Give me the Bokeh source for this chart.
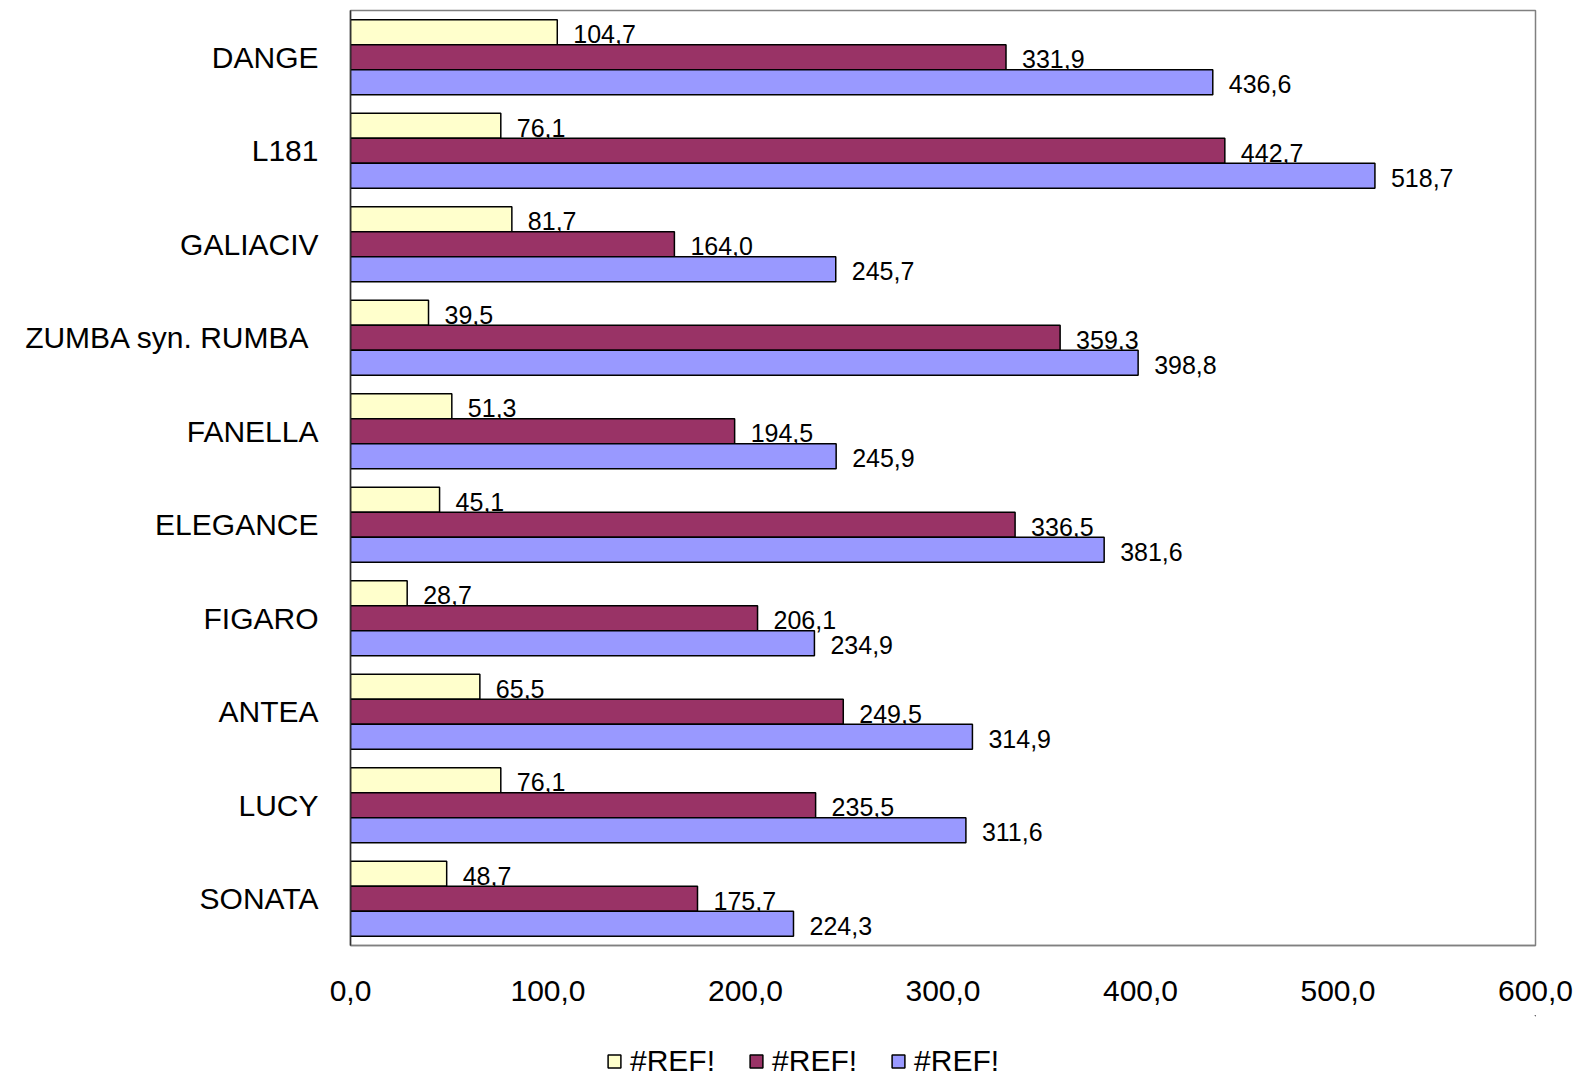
from bokeh.plotting import figure
from bokeh.models import FactorRange, Range1d, FixedTicker, Legend, LegendItem, ColumnDataSource
from bokeh.layouts import column
from bokeh.transform import dodge
from bokeh.core.properties import value
from bokeh.embed import file_html
from bokeh.resources import INLINE

categories = ["DANGE", "L181", "GALIACIV", "ZUMBA syn. RUMBA ", "FANELLA",
              "ELEGANCE", "FIGARO", "ANTEA", "LUCY", "SONATA"]
series_names = ["#REF!", "#REF!", "#REF!"]
series1 = [104.7, 76.1, 81.7, 39.5, 51.3, 45.1, 28.7, 65.5, 76.1, 48.7]
series2 = [331.9, 442.7, 164.0, 359.3, 194.5, 336.5, 206.1, 249.5, 235.5, 175.7]
series3 = [436.6, 518.7, 245.7, 398.8, 245.9, 381.6, 234.9, 314.9, 311.6, 224.3]
x_ticks = [0, 100, 200, 300, 400, 500, 600]
colors = ["#FFFFCC", "#993366", "#9999FF"]

FONT = "Liberation Sans"

def fmt(v):
    return f"{v:.1f}".replace(".", ",")

W = 1580
p = figure(
    y_range=FactorRange(factors=categories[::-1], range_padding=0),
    x_range=Range1d(0, 600),
    width=W, height=1015,
    min_border_left=350, min_border_right=W - 1535, min_border_top=10, min_border_bottom=70,
    output_backend="svg", toolbar_location=None,
)
p.background_fill_color = "white"
p.border_fill_color = "white"
p.outline_line_color = "#808080"
p.outline_line_width = 1.5
p.xgrid.grid_line_color = None
p.ygrid.grid_line_color = None

bar_h = 0.267
offsets = [bar_h, 0.0, -bar_h]
all_series = [series1, series2, series3]
for vals, off, col in zip(all_series, offsets, colors):
    src = ColumnDataSource(dict(cat=categories, val=vals, lab=[fmt(v) for v in vals]))
    p.hbar(y=dodge("cat", off, range=p.y_range), right="val", left=0, height=bar_h,
           source=src, fill_color=col, line_color="black", line_width=1.5)
    p.text(x="val", y=dodge("cat", off, range=p.y_range), text="lab", source=src,
           x_offset=16, y_offset=2, text_baseline="middle", text_align="left",
           text_font=value(FONT), text_font_size="25px", text_color="black")

# axes
p.xaxis.ticker = FixedTicker(ticks=x_ticks)
p.xaxis.major_label_overrides = {t: fmt(t) for t in x_ticks}
p.xaxis.major_tick_line_color = None
p.xaxis.minor_tick_line_color = None
p.xaxis.major_tick_out = 0
p.xaxis.major_tick_in = 0
p.xaxis.minor_tick_out = 0
p.xaxis.axis_line_color = "#808080"
p.xaxis.axis_line_width = 1.5
p.xaxis.major_label_standoff = 35
p.xaxis.major_label_text_font = FONT
p.xaxis.major_label_text_font_size = "30px"
p.xaxis.major_label_text_color = "black"

p.yaxis.major_tick_line_color = None
p.yaxis.minor_tick_line_color = None
p.yaxis.major_tick_out = 0
p.yaxis.major_tick_in = 0
p.yaxis.axis_line_color = "#333333"
p.yaxis.axis_line_width = 1.5
p.yaxis.major_label_standoff = 32
p.yaxis.major_label_text_font = FONT
p.yaxis.major_label_text_font_size = "30px"
p.yaxis.major_label_text_color = "black"

# legend strip below the chart (legend swatches only; their bars lie outside the view)
pl = figure(width=W, height=63, output_backend="svg", toolbar_location=None,
            x_range=Range1d(0, 1), y_range=Range1d(0, 1),
            x_axis_location=None, y_axis_location=None,
            min_border_left=0, min_border_right=0, min_border_top=0, min_border_bottom=0)
pl.outline_line_color = None
pl.background_fill_color = "white"
pl.border_fill_color = "white"
pl.xgrid.grid_line_color = None
pl.ygrid.grid_line_color = None
leg_renderers = []
for col in colors:
    r = pl.hbar(y=[50], right=[60], left=50, height=1, fill_color=col,
                line_color="black", line_width=1.5)
    leg_renderers.append(r)

legend = Legend(
    items=[LegendItem(label=n, renderers=[r]) for n, r in zip(series_names, leg_renderers)],
    orientation="horizontal", location=(256, 0),
    glyph_width=16, glyph_height=16, label_standoff=8, spacing=33,
    label_text_font=FONT, label_text_font_size="30px", label_text_color="black",
    border_line_color=None, background_fill_alpha=0, padding=0, margin=0,
)
pl.add_layout(legend, "center")

layout = column(p, pl, spacing=0)
open("out.html", "w").write(file_html(layout, INLINE))
